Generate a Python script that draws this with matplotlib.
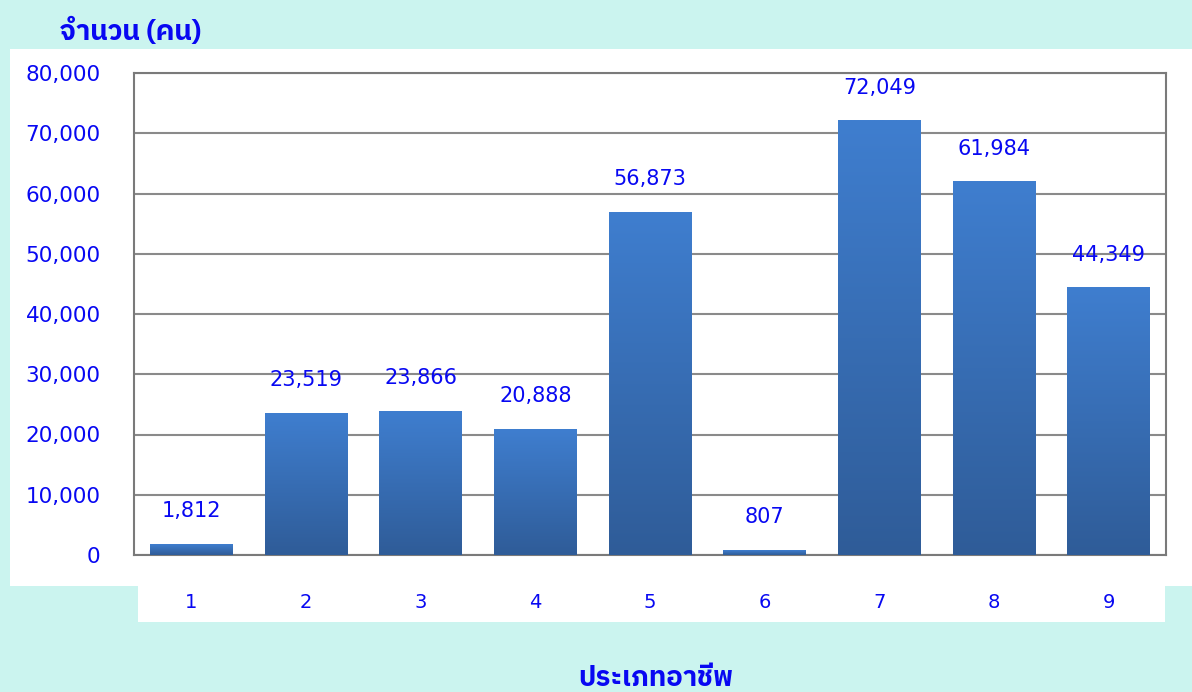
import matplotlib
matplotlib.use('Agg')
from matplotlib import pyplot as plt
from matplotlib import font_manager
from matplotlib.ft2font import FT2Font
from matplotlib.patches import Rectangle
from matplotlib.ticker import FuncFormatter
import numpy as np

categories = [1, 2, 3, 4, 5, 6, 7, 8, 9]
people = [1812, 23519, 23866, 20888, 56873, 807, 72049, 61984, 44349]
y_ticks = [0, 10000, 20000, 30000, 40000, 50000, 60000, 70000, 80000]
y_title = 'จำนวน (คน)'
x_title = 'ประเภทอาชีพ'

BG = '#cbf4ef'
BLUE = '#0808f2'
BAR_TOP = '#3f7ecf'
BAR_BOTTOM = '#2f5c98'


def find_thai_font():
    """Pick an installed family that has Thai glyphs."""
    found = []
    for f in font_manager.fontManager.ttflist:
        try:
            if 0x0E08 in FT2Font(f.fname).get_charmap():
                found.append(f.name)
        except Exception:
            pass
    for name in found:
        if 'Thai' in name:
            return name
    return found[0] if found else 'DejaVu Sans'


thai = find_thai_font()
plt.rcParams['font.family'] = ['DejaVu Sans']

W, H = 1192, 692
fig = plt.figure(figsize=(W / 100, H / 100), dpi=100, facecolor=BG)

# white panels behind the chart and the category labels
fig.patches.append(Rectangle((10 / W, 1 - 586 / H), (W - 10) / W, (586 - 49) / H,
                             transform=fig.transFigure, facecolor='white', edgecolor='none', zorder=-5))
fig.patches.append(Rectangle((138 / W, 1 - 622 / H), (1165 - 138) / W, 36 / H,
                             transform=fig.transFigure, facecolor='white', edgecolor='none', zorder=-5))

ax = fig.add_axes([134 / W, 1 - 555 / H, (1166 - 134) / W, (555 - 73) / H])
ax.set_facecolor('none')

# gradient bars
grad = np.linspace(0, 1, 256).reshape(-1, 1)
cmap = matplotlib.colors.LinearSegmentedColormap.from_list('bar', [BAR_BOTTOM, BAR_TOP])
width = 0.72
for x, v in zip(categories, people):
    ax.imshow(grad, cmap=cmap, origin='lower', aspect='auto',
              extent=(x - width / 2, x + width / 2, 0, v), zorder=3)
    ax.text(x, v + 3800, f'{v:,}', ha='center', va='bottom', color=BLUE, fontsize=15, zorder=4)

ax.set_xlim(0.5, 9.5)
ax.set_ylim(0, 80000)
ax.set_yticks(y_ticks)
ax.set_xticks(categories)
ax.yaxis.set_major_formatter(FuncFormatter(lambda v, p: f'{int(v):,}'))
ax.grid(axis='y', color='#8a8a8a', linewidth=1.5, zorder=1)
ax.set_axisbelow(True)
for s in ax.spines.values():
    s.set_color('#7a7a7a')
    s.set_linewidth(1.5)
ax.tick_params(axis='y', length=0, pad=24, labelsize=15.5, labelcolor=BLUE)
ax.tick_params(axis='x', length=0, pad=27, labelsize=14, labelcolor=BLUE)

fig.text(60 / W, 1 - 32 / H, y_title, family=[thai, 'DejaVu Sans'], fontsize=20,
         fontweight='bold', color=BLUE, ha='left', va='center')
fig.text(656 / W, 1 - 678 / H, x_title, family=[thai, 'DejaVu Sans'], fontsize=20,
         fontweight='bold', color=BLUE, ha='center', va='center')

fig.savefig('out.png', dpi=100, facecolor=BG)
